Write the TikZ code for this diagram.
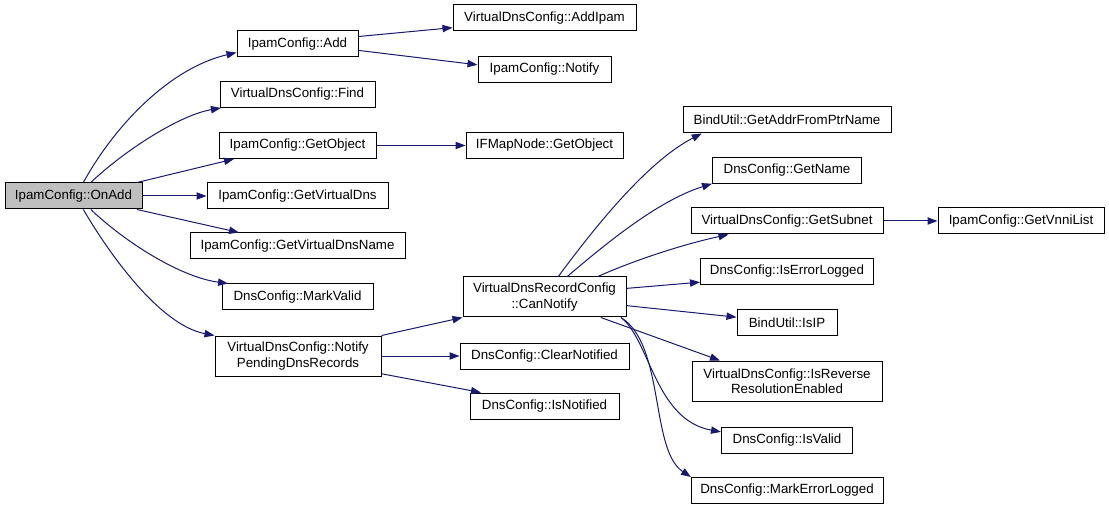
\documentclass[tikz,border=0pt]{standalone}
\usepackage{fontspec}
\setmainfont{Liberation Sans}
\usetikzlibrary{arrows.meta}
\definecolor{edgeblue}{RGB}{25,25,112}
\definecolor{rootgray}{RGB}{191,191,191}
\tikzset{
  fn/.style={draw=black, line width=0.75pt, fill=white, inner sep=0pt,
    minimum height=19.5pt, align=center, font=\fontsize{10}{11.5}\selectfont},
  fntwo/.style={fn, minimum height=30pt},
  wd/.style={minimum width=#1*0.75pt},
  call/.style={edgeblue, line width=0.75pt, -{Triangle[length=7.5pt,width=5.5pt]}},
}
\begin{document}
\begin{tikzpicture}[x=0.75pt,y=-0.75pt]
   \useasboundingbox (0,0) rectangle (1109,509);
   % column 1
   \node[fn,wd=137,fill=rootgray] (onadd) at (73.5,196) {IpamConfig::OnAdd};
   % column 2
   \node[fn,wd=121] (add)        at (297.5,44)    {IpamConfig::Add};
   \node[fn,wd=155] (find)       at (297.5,94.5)  {VirtualDnsConfig::Find};
   \node[fn,wd=157] (getobject)  at (297.5,145.5) {IpamConfig::GetObject};
   \node[fn,wd=181] (gvdns)      at (297.5,196)   {IpamConfig::GetVirtualDns};
   \node[fn,wd=215] (gvdnsname)  at (297.5,246)   {IpamConfig::GetVirtualDnsName};
   \node[fn,wd=151] (markvalid)  at (297.5,297)   {DnsConfig::MarkValid};
   \node[fntwo,wd=166] (notifypending) at (298,356) {VirtualDnsConfig::Notify\\PendingDnsRecords};
   % column 3
   \node[fn,wd=183] (addipam)    at (544.5,18)    {VirtualDnsConfig::AddIpam};
   \node[fn,wd=133] (notify)     at (544.5,69.5)  {IpamConfig::Notify};
   \node[fn,wd=157] (ifmap)      at (544.5,145.5) {IFMapNode::GetObject};
   \node[fntwo,wd=163] (cannotify) at (544.5,297) {VirtualDnsRecordConfig\\::CanNotify};
   \node[fn,wd=169] (clearnotified) at (544.5,356) {DnsConfig::ClearNotified};
   \node[fn,wd=149] (isnotified) at (544.5,406)   {DnsConfig::IsNotified};
   % column 4
   \node[fn,wd=208] (getaddr)    at (787,120)     {BindUtil::GetAddrFromPtrName};
   \node[fn,wd=149] (getname)    at (787,170.5)   {DnsConfig::GetName};
   \node[fn,wd=192] (getsubnet)  at (787,221)     {VirtualDnsConfig::GetSubnet};
   \node[fn,wd=173] (iserrorlogged) at (787,271.5) {DnsConfig::IsErrorLogged};
   \node[fn,wd=100] (isip)       at (787,322.5)   {BindUtil::IsIP};
   \node[fntwo,wd=190] (isreverse) at (787,381)   {VirtualDnsConfig::IsReverse\\ResolutionEnabled};
   \node[fn,wd=131] (isvalid)    at (787,440)     {DnsConfig::IsValid};
   \node[fn,wd=192] (markerrorlogged) at (787,490.5) {DnsConfig::MarkErrorLogged};
   % column 5
   \node[fn,wd=166] (getvnnilist) at (1021,221)   {IpamConfig::GetVnniList};
   % calls from OnAdd
   \draw[call] (onadd.54)  .. controls (115,125) and (170,68)  .. (add.188);
   \draw[call] (onadd.38)  .. controls (125,150) and (180,115) .. (find.190);
   \draw[call] (onadd.12)  -- (getobject.192);
   \draw[call] (onadd.east) -- (gvdns.west);
   \draw[call] (onadd.-12) -- (gvdnsname.167);
   \draw[call] (onadd.-38) .. controls (125,242) and (180,277) .. (markvalid.169);
   \draw[call] (onadd.-54) .. controls (110,255) and (160,325) .. (notifypending.north west);
   % second level
   \draw[call] (add.7)  -- (addipam.186);
   \draw[call] (add.-6) -- (notify.176);
   \draw[call] (getobject.east) -- (ifmap.west);
   \draw[call] (notifypending.north east) -- (cannotify.south west);
   \draw[call] (notifypending.east) -- (clearnotified.west);
   \draw[call] (notifypending.-12) -- (isnotified.168);
   % calls from CanNotify
   \draw[call] (cannotify.56) .. controls (600,220) and (650,160) .. (getaddr.189);
   \draw[call] (cannotify.42) .. controls (610,240) and (660,200) .. (getname.190);
   \draw[call] (cannotify.21) .. controls (630,262) and (680,245) .. (getsubnet.193);
   \draw[call] (cannotify.6)   -- (iserrorlogged.187);
   \draw[call] (cannotify.-6)  -- (isip.174);
   \draw[call] (cannotify.-20) -- (isreverse.163);
   \draw[call] (cannotify.-15) .. controls (650,340) and (655,420) .. (isvalid.173);
   \draw[call] (cannotify.-15) .. controls (665,345) and (650,450) .. (markerrorlogged.172);
   \draw[call] (getsubnet.east) -- (getvnnilist.west);
\end{tikzpicture}
\end{document}
